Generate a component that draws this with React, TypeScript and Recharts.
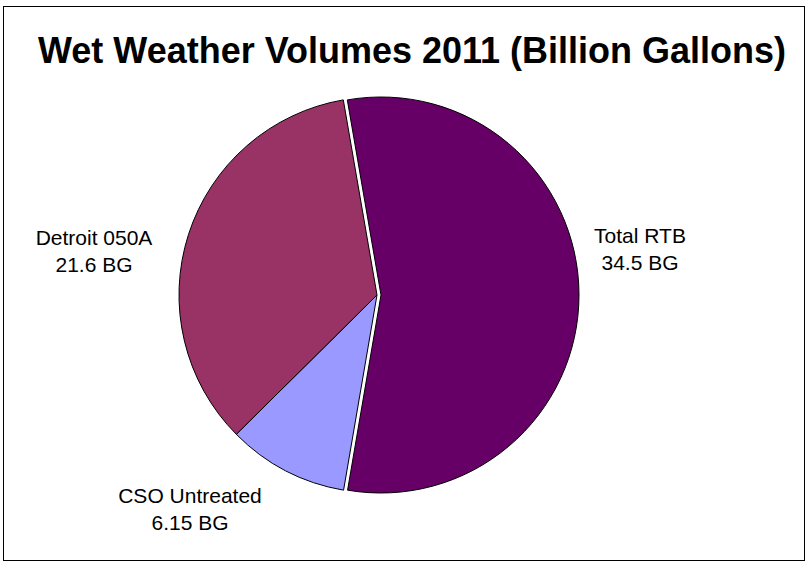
import { PieChart, Pie, Cell } from "recharts";

// Wet weather volumes, 2011 (billion gallons)
const categories = ["Total RTB", "CSO Untreated", "Detroit 050A"];
const volumes = [34.5, 6.15, 21.6];
const volumeLabels = ["34.5 BG", "6.15 BG", "21.6 BG"];

const sliceColors = ["#660066", "#9999FF", "#993366"];
// the first slice is pulled out a little, as in the original
const explodedIndex = 0;

// label placement, relative to the pie centre
const labelOffsets = [
  { dx: 263, dy: -52 },
  { dx: -187, dy: 208 },
  { dx: -283, dy: -50 },
];

const data = categories.map((name, i) => ({ name, value: volumes[i], text: volumeLabels[i] }));

const FONT = "'Liberation Sans', Arial, sans-serif";
const CX = 377;
const CY = 295;
const R = 198;
const START = 99.8;

function renderLabel(props: any) {
  const { cx, cy, index } = props;
  const off = labelOffsets[index];
  const x = cx + off.dx;
  const y = cy + off.dy;
  return (
    <text x={x} y={y} textAnchor="middle" fontFamily={FONT} fontSize={21} fill="#000">
      <tspan x={x} y={y}>{categories[index]}</tspan>
      <tspan x={x} y={y + 27}>{volumeLabels[index]}</tspan>
    </text>
  );
}

export default function App() {
  return (
    <div style={{ position: "absolute", left: 0, top: 0, width: 806, height: 562, background: "#fff" }}>
      <PieChart width={806} height={562} margin={{ top: 0, right: 0, bottom: 0, left: 0 }}>
        <rect x={3.5} y={6.5} width={801} height={554} fill="none" stroke="#000" strokeWidth={1} />
        <text
          x={412}
          y={63}
          textAnchor="middle"
          fontFamily={FONT}
          fontWeight="bold"
          fontSize={37}
          textLength={748}
          lengthAdjust="spacingAndGlyphs"
          fill="#000"
        >
          Wet Weather Volumes 2011 (Billion Gallons)
        </text>
        <Pie
          data={data}
          dataKey="value"
          nameKey="name"
          cx={CX}
          cy={CY}
          outerRadius={R}
          startAngle={START}
          endAngle={START - 360}
          label={renderLabel}
          labelLine={false}
          isAnimationActive={false}
        >
          {data.map((d, i) =>
            i === explodedIndex ? (
              <Cell key={d.name} fill="none" stroke="none" />
            ) : (
              <Cell key={d.name} fill={sliceColors[i]} stroke="#000" strokeWidth={1} />
            )
          )}
        </Pie>
        <Pie
          data={data}
          dataKey="value"
          nameKey="name"
          cx={CX + 4}
          cy={CY}
          outerRadius={R}
          startAngle={START}
          endAngle={START - 360}
          isAnimationActive={false}
        >
          {data.map((d, i) =>
            i === explodedIndex ? (
              <Cell key={d.name} fill={sliceColors[i]} stroke="#000" strokeWidth={1} />
            ) : (
              <Cell key={d.name} fill="none" stroke="none" />
            )
          )}
        </Pie>
      </PieChart>
    </div>
  );
}
